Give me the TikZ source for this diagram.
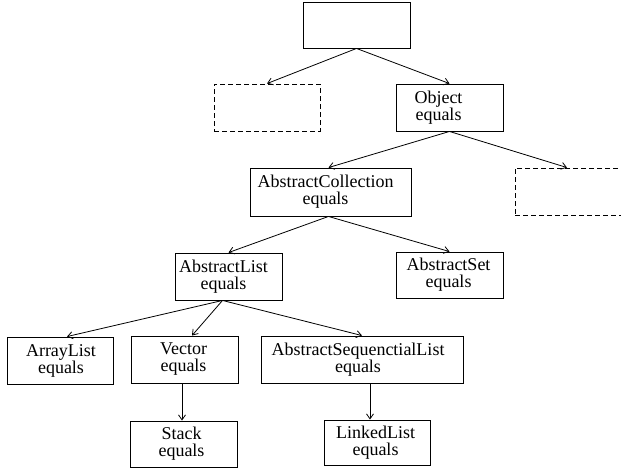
\documentclass[tikz,border=0pt]{standalone}
\usepackage{fontspec}
\setmainfont{Liberation Serif}
\usetikzlibrary{arrows.meta,calc}
\tikzset{
  box/.style={draw, rectangle, line width=0.9pt, inner sep=0pt},
  ghost/.style={box, dash pattern=on 5pt off 3pt},
  tx/.style={font=\fontsize{18}{17}\selectfont, align=center, inner sep=0pt},
  conn/.style={-{Straight Barb[length=5pt,width=7pt]}, line width=0.8pt},
}
\begin{document}
\begin{tikzpicture}[x=1pt,y=-1pt]
\useasboundingbox (0,0) rectangle (621,469);
\clip (0,0) rectangle (621,469);
% boxes
\node[box, minimum width=107pt, minimum height=46pt] (top) at (356.5,25) {};
\node[ghost, minimum width=106pt, minimum height=47pt] (ld) at (267,107.5) {};
\node[box, minimum width=107pt, minimum height=47pt,
  label={[tx,xshift=-11pt]center:Object\\equals}] (obj) at (449.5,107.5) {};
\node[box, minimum width=161pt, minimum height=48pt,
  label={[tx,xshift=-5pt]center:AbstractCollection\\equals}] (ac) at (330.5,192) {};
\node[ghost, minimum width=108pt, minimum height=47pt] (rd) at (569,191.5) {};
\node[box, minimum width=107pt, minimum height=47pt,
  label={[tx,xshift=-5pt]center:AbstractList\\equals}] (al) at (228.5,276.5) {};
\node[box, minimum width=107pt, minimum height=46pt,
  label={[tx,xshift=-1pt]center:AbstractSet\\equals}] (as) at (449.5,275) {};
\node[box, minimum width=106pt, minimum height=47pt,
  label={[tx,xshift=1pt]center:ArrayList\\equals}] (arr) at (60,360.5) {};
\node[box, minimum width=107pt, minimum height=47pt,
  label={[tx,xshift=-1pt]center:Vector\\equals}] (vec) at (184.5,359.5) {};
\node[box, minimum width=202pt, minimum height=47pt,
  label={[tx,xshift=-4pt]center:AbstractSequenctialList\\equals}] (asl) at (362,359.5) {};
\node[box, minimum width=107pt, minimum height=46pt,
  label={[tx,xshift=-2pt]center:Stack\\equals}] (stk) at (183.5,444) {};
\node[box, minimum width=106pt, minimum height=45pt,
  label={[tx,xshift=-1.5pt]center:LinkedList\\equals}] (ll) at (377,442.5) {};
% connectors
\draw[conn] (top.south) -- (ld.north);
\draw[conn] (top.south) -- (obj.north);
\draw[conn] (obj.south) -- ($(ac.north)+(-2,0)$);
\draw[conn] (obj.south) -- ($(rd.north)+(-2,0)$);
\draw[conn] ($(ac.south)+(-2,0)$) -- (al.north);
\draw[conn] ($(ac.south)+(-2,0)$) -- (as.north);
\coordinate (alb) at ($(al.south)+(-6,0)$);
\draw[conn] (alb) -- ($(arr.north)+(7,0)$);
\draw[conn] (alb) -- ($(vec.north)+(7.5,0)$);
\draw[conn] (alb) -- (asl.north);
\draw[conn] ($(vec.south)+(-2.5,0)$) -- ($(stk.north)+(-1.5,0)$);
\draw[conn] ($(asl.south)+(8,0)$) -- ($(ll.north)+(-7,0)$);
\end{tikzpicture}
\end{document}
